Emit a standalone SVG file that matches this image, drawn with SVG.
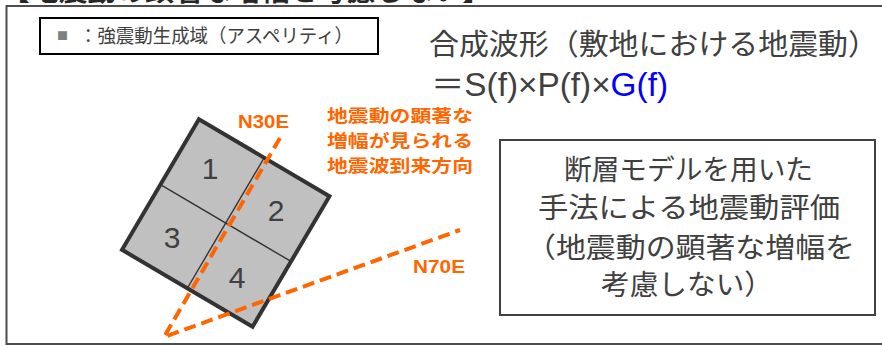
<svg xmlns="http://www.w3.org/2000/svg" width="882" height="346" viewBox="0 0 882 346">
<style>
.jp{font-family:"Noto Sans CJK JP","Liberation Sans",sans-serif;fill:#404040}
.num{font-family:"Liberation Sans",Arial,sans-serif;font-size:30px;fill:#404040;text-anchor:middle}
.or{font-family:"Liberation Sans","Noto Sans CJK JP",sans-serif;font-weight:bold;fill:#FF6600}
.orj{font-family:"Noto Sans CJK JP",sans-serif;font-weight:bold;fill:#FF6600;font-size:17.5px}
.box{fill:#fff;stroke:#404040;stroke-width:2}
.dir{fill:none;stroke:#FF6600;stroke-width:4;stroke-dasharray:12 6;stroke-linejoin:miter;stroke-miterlimit:10}
</style>
<g id="title">
<text class="jp" x="1" y="0.5" font-size="28" font-weight="bold" style="fill:#262626" textLength="490" lengthAdjust="spacingAndGlyphs">【地震動の顕著な増幅を考慮しない】</text>
</g>
<g id="frame">
<rect x="6.5" y="6" width="890" height="338" fill="none" stroke="#4d4d4d" stroke-width="2"/>
</g>
<g id="legend">
<rect x="40" y="18" width="338" height="36" fill="#fff" stroke="#000" stroke-width="2"/>
<text class="jp" x="57" y="40" font-size="11" style="fill:#808080">■</text>
<text class="jp" x="79" y="43" font-size="19" textLength="274" lengthAdjust="spacingAndGlyphs">：強震動生成域（アスペリティ）</text>
</g>
<g id="formula">
<text class="jp" x="429" y="55" font-size="29" textLength="449" lengthAdjust="spacingAndGlyphs">合成波形（敷地における地震動）</text>
<text class="jp" x="431" y="96" font-size="33" style="font-family:'Liberation Sans','Noto Sans CJK JP',sans-serif" textLength="237" lengthAdjust="spacingAndGlyphs">＝S(f)×P(f)×<tspan style="fill:#0000FF">G(f)</tspan></text>
</g>
<g id="asperity">
<g transform="translate(225.75,223) rotate(30.5)">
<rect x="-75.75" y="-75.75" width="151.5" height="151.5" fill="#C0C0C0" stroke="#333" stroke-width="4"/>
<line x1="0" y1="-75.75" x2="0" y2="75.75" stroke="#333" stroke-width="1.4"/>
<line x1="-75.75" y1="0" x2="75.75" y2="0" stroke="#333" stroke-width="1.4"/>
</g>
<text class="num" x="210" y="179">1</text>
<text class="num" x="276" y="221">2</text>
<text class="num" x="172" y="248">3</text>
<text class="num" x="237" y="288">4</text>
</g>
<g id="connectors">
<polyline class="dir" points="280,138 164,337 460,230"/>
</g>
<g id="label-n30e">
<text class="or" x="238" y="128" font-size="18" textLength="51" lengthAdjust="spacingAndGlyphs">N30E</text>
</g>
<g id="label-n70e">
<text class="or" x="413" y="273" font-size="18" textLength="52" lengthAdjust="spacingAndGlyphs">N70E</text>
</g>
<g id="label-direction">
<text class="orj" x="327" y="121.5" textLength="146" lengthAdjust="spacingAndGlyphs">地震動の顕著な</text>
<text class="orj" x="327" y="146.5" textLength="146" lengthAdjust="spacingAndGlyphs">増幅が見られる</text>
<text class="orj" x="327" y="172" textLength="146" lengthAdjust="spacingAndGlyphs">地震波到来方向</text>
</g>
<g id="result">
<rect class="box" x="500" y="140" width="375" height="175"/>
<text class="jp" x="564" y="180" font-size="28" textLength="249" lengthAdjust="spacingAndGlyphs">断層モデルを用いた</text>
<text class="jp" x="538" y="218" font-size="28" textLength="302" lengthAdjust="spacingAndGlyphs">手法による地震動評価</text>
<text class="jp" x="526" y="258" font-size="28" textLength="329" lengthAdjust="spacingAndGlyphs">（地震動の顕著な増幅を</text>
<text class="jp" x="601" y="295" font-size="28" textLength="172" lengthAdjust="spacingAndGlyphs">考慮しない）</text>
</g>
</svg>
